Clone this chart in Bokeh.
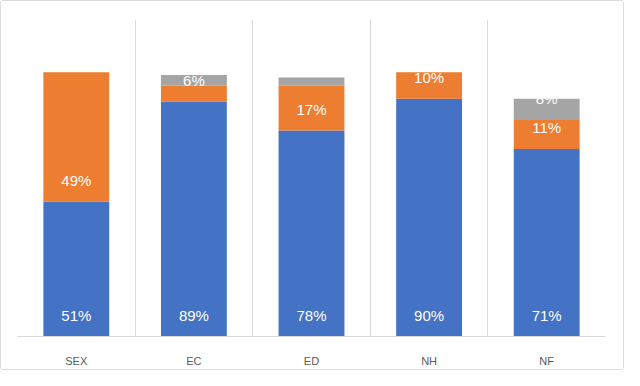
import numpy as np
from bokeh.plotting import figure
from bokeh.models import ColumnDataSource, FixedTicker, Range1d
from bokeh.core.properties import value
from bokeh.embed import file_html
from bokeh.resources import INLINE

categories = ["SEX", "EC", "ED", "NH", "NF"]
blue = [51, 89, 78, 90, 71]
orange = [49, 6, 17, 10, 11]
gray = [0, 4, 3, 0, 8]
blue_labels = ["51%", "89%", "78%", "90%", "71%"]
orange_labels = ["49%", "6%", "17%", "10%", "11%"]
gray_labels = ["", "", "", "", "8%"]

colors = ["#4472C4", "#ED7D31", "#A5A5A5"]

x = np.arange(len(categories)) + 0.5
src = ColumnDataSource(dict(x=x, blue=blue, orange=orange, gray=gray))

p = figure(width=624, height=370, output_backend="svg", toolbar_location=None,
           x_range=Range1d(0, len(categories)), y_range=Range1d(0, 120),
           min_border_left=16, min_border_right=20, min_border_top=18, min_border_bottom=35)
p.outline_line_color = None
p.styles = {"border": "1px solid #dcdcdc", "border-radius": "3px", "box-sizing": "border-box"}

p.vbar_stack(["blue", "orange", "gray"], x="x", width=0.56, color=colors,
             line_color=None, source=src)

# labels at the base of each segment
b = np.array(blue, dtype=float)
o = np.array(orange, dtype=float)
g = np.array(gray, dtype=float)
lx, ly, lt = [], [], []
for i in range(len(categories)):
    for base, lab in ((0.0, blue_labels[i]), (b[i], orange_labels[i]), (b[i] + o[i], gray_labels[i])):
        if lab:
            lx.append(x[i]); ly.append(base); lt.append(lab)
lsrc = ColumnDataSource(dict(x=lx, y=ly, t=lt))
p.text(x="x", y="y", text="t", source=lsrc, y_offset=-21, text_align="center",
       text_baseline="middle", text_color="white", text_font_size="15px",
       text_font=value("Liberation Sans"))

# axes
p.yaxis.visible = False
p.ygrid.visible = False
p.xaxis.ticker = FixedTicker(ticks=list(x))
p.xaxis.major_label_overrides = {float(xi): c for xi, c in zip(x, categories)}
p.xaxis.major_tick_line_color = None
p.xaxis.minor_tick_line_color = None
p.xaxis.axis_line_color = "#d9d9d9"
p.xaxis.major_label_text_color = "#595959"
p.xaxis.major_label_text_font = "Liberation Sans"
p.xaxis.major_label_text_font_size = "11px"
p.xaxis.major_label_standoff = 12
p.xgrid.ticker = FixedTicker(ticks=list(range(len(categories) + 1)))
p.xgrid.grid_line_color = "#d9d9d9"

open("out.html", "w").write(file_html(p, INLINE))
